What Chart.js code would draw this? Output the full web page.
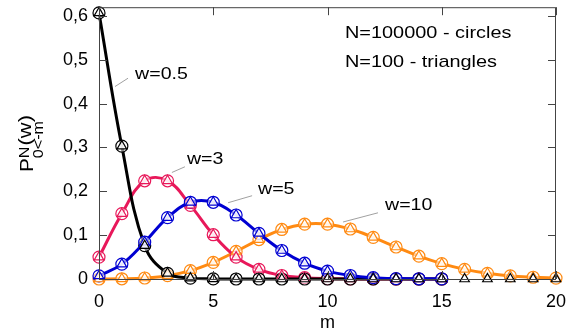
<!DOCTYPE html>
<html>
<head>
<meta charset="utf-8">
<style>
  html, body { margin: 0; padding: 0; background: #fff; }
  #wrap { width: 577px; height: 334px; }
</style>
</head>
<body>
<div id="wrap">
    <canvas id="myChart" width="577" height="334"></canvas>
</div>
<script src="https://cdn.jsdelivr.net/npm/chart.js"></script>

<script>
    // m values (x axis)
    const m = [0, 1, 2, 3, 4, 5, 6, 7, 8, 9, 10, 11, 12, 13, 14, 15, 16, 17, 18, 19, 20];

    // P(m), one list per w
    const w05 = [0.607, 0.303, 0.076, 0.013, 0.002, 0.0002, 0, 0, 0, 0, 0, 0, 0, 0, 0, 0];
    const w05tri = [0.607, 0.303, 0.076, 0.013, 0.002, 0.0002, 0, 0, 0, 0, 0, 0, 0, 0, 0, 0, 0, 0, 0, 0, 0];
    const w3 = [0.050, 0.149, 0.224, 0.224, 0.168, 0.101, 0.050, 0.022, 0.008, 0.003, 0.001, 0.0003, 0.0001, 0, 0, 0];
    const w5 = [0.007, 0.034, 0.084, 0.140, 0.175, 0.175, 0.146, 0.104, 0.065, 0.036, 0.018, 0.008, 0.003, 0.001, 0.0005, 0.0002];
    const w10 = [0.00005, 0.0005, 0.0023, 0.0076, 0.019, 0.038, 0.063, 0.090, 0.113, 0.125, 0.125, 0.114, 0.095, 0.073, 0.052, 0.035, 0.022, 0.013, 0.007, 0.004, 0.002];

    const xTicks = [0, 5, 10, 15, 20];
    const yTicks = [0, 0.1, 0.2, 0.3, 0.4, 0.5, 0.6];

    const colBlack = '#000000';
    const colRed = '#e8185a';
    const colBlue = '#0000d2';
    const colOrange = '#ff8a12';

    const FONT = '"Liberation Sans", Arial, sans-serif';

    function pts(arr) {
        return arr.map(function (v, i) { return { x: m[i], y: v }; });
    }

    function lineSet(label, arr, color) {
        return {
            label: label,
            data: pts(arr),
            borderColor: color,
            borderWidth: 3,
            tension: 0.4,
            pointStyle: 'circle',
            pointRadius: 6,
            pointBorderWidth: 1.2,
            pointBorderColor: color,
            pointBackgroundColor: 'rgba(255,255,255,0.55)',
            clip: false
        };
    }

    function triSet(label, arr, color) {
        return {
            label: label,
            data: pts(arr),
            showLine: false,
            pointStyle: 'triangle',
            pointRadius: 5.5,
            pointBorderWidth: 1.2,
            pointBorderColor: color,
            pointBackgroundColor: 'rgba(255,255,255,0.8)',
            clip: false
        };
    }

    // text labels with leader lines: [text, textX, textY, lineX1, lineY1, lineX2, lineY2] in data coords
    const labels = [
        ['w=0.5', 1.58, 0.467, 0.70, 0.439, 1.27, 0.458],
        ['w=3', 3.85, 0.272, 3.19, 0.243, 3.76, 0.256],
        ['w=5', 6.96, 0.204, 5.65, 0.174, 6.70, 0.190],
        ['w=10', 12.52, 0.169, 10.68, 0.130, 12.21, 0.151]
    ];
    const notes = ['N=100000 - circles', 'N=100 - triangles'];

    // wide text, the reference glyphs are stretched sideways
    function wideText(c, txt, x, y, sx) {
        c.save();
        c.translate(x, y);
        c.scale(sx, 1);
        c.fillText(txt, 0, 0);
        c.restore();
    }

    const decor = {
        id: 'decor',
        afterDraw: function (chart) {
            const c = chart.ctx;
            const a = chart.chartArea;
            const xs = chart.scales.x, ys = chart.scales.y;
            c.save();
            // frame
            c.strokeStyle = '#444';
            c.lineWidth = 1;
            c.strokeRect(a.left + 0.5, a.top + 0.5, a.right - a.left - 1, a.bottom - a.top);
            // inward ticks on all sides
            c.beginPath();
            xTicks.forEach(function (t) {
                const px = Math.round(xs.getPixelForValue(t)) + 0.5;
                c.moveTo(px, a.bottom); c.lineTo(px, a.bottom - 8);
                c.moveTo(px, a.top); c.lineTo(px, a.top + 8);
            });
            yTicks.forEach(function (t) {
                const py = Math.round(ys.getPixelForValue(t)) + 0.5;
                c.moveTo(a.left, py); c.lineTo(a.left + 8, py);
                c.moveTo(a.right, py); c.lineTo(a.right - 8, py);
            });
            c.stroke();

            // curve labels
            c.fillStyle = '#000';
            c.font = '17px ' + FONT;
            c.textBaseline = 'middle';
            c.textAlign = 'left';
            c.strokeStyle = '#888';
            c.lineWidth = 0.8;
            labels.forEach(function (l) {
                wideText(c, l[0], xs.getPixelForValue(l[1]), ys.getPixelForValue(l[2]), 1.15);
                c.beginPath();
                c.moveTo(xs.getPixelForValue(l[3]), ys.getPixelForValue(l[4]));
                c.lineTo(xs.getPixelForValue(l[5]), ys.getPixelForValue(l[6]));
                c.stroke();
            });
            wideText(c, notes[0], 345, 33, 1.17);
            wideText(c, notes[1], 345, 62, 1.17);

            // y axis title: P^N_{0<-m}(w)
            c.translate(33, 172);
            c.rotate(-Math.PI / 2);
            c.scale(1.15, 1);
            c.textBaseline = 'alphabetic';
            c.font = '18px ' + FONT;
            c.fillText('P', 0, 0);
            const wP = c.measureText('P').width;
            c.font = '14px ' + FONT;
            c.fillText('N', wP, -4);
            const wN = c.measureText('N').width;
            c.fillText('0<-m', wP, 10);
            c.font = '19px ' + FONT;
            c.fillText('(w)', wP + wN + 1, -2);
            c.restore();
        }
    };

    const ctx = document.getElementById('myChart');

    new Chart(ctx, {
        type: 'line',
        data: {
            datasets: [
                triSet('w=0.5 N=100', w05tri, colBlack),
                triSet('w=5 N=100', w5, colBlue),
                triSet('w=3 N=100', w3, colRed),
                triSet('w=10 N=100', w10, colOrange),
                lineSet('w=5', w5, colBlue),
                lineSet('w=0.5', w05, colBlack),
                lineSet('w=3', w3, colRed),
                lineSet('w=10', w10, colOrange)
            ]
        },
        options: {
            responsive: false,
            animation: false,
            devicePixelRatio: 1,
            layout: { padding: { left: 0, right: 21, top: 7, bottom: 0 } },
            scales: {
                x: {
                    type: 'linear',
                    min: 0,
                    max: 20,
                    afterFit: function (s) {
                        s.height = 55;
                        s.paddingLeft = 0; s.paddingRight = 0;
                    },
                    afterBuildTicks: function (s) { s.ticks = xTicks.map(function (v) { return { value: v }; }); },
                    grid: { display: false, drawTicks: false },
                    border: { display: false },
                    ticks: {
                        padding: 12,
                        color: '#000',
                        font: { family: FONT, size: 18 }
                    },
                    title: {
                        display: true,
                        text: 'm',
                        color: '#000',
                        padding: { top: 0, bottom: 0 },
                        font: { family: FONT, size: 18 }
                    }
                },
                y: {
                    min: 0,
                    max: 0.62,
                    afterFit: function (s) {
                        s.width = 99;
                        s.paddingTop = 0; s.paddingBottom = 0;
                    },
                    afterBuildTicks: function (s) { s.ticks = yTicks.map(function (v) { return { value: v }; }); },
                    grid: { display: false, drawTicks: false },
                    border: { display: false },
                    ticks: {
                        padding: 11,
                        color: '#000',
                        font: { family: FONT, size: 18 },
                        callback: function (v) { return v === 0 ? '0' : v.toFixed(1).replace('.', ','); }
                    }
                }
            },
            plugins: {
                legend: { display: false },
                tooltip: { enabled: false }
            }
        },
        plugins: [decor]
    });
</script>
</body>
</html>
